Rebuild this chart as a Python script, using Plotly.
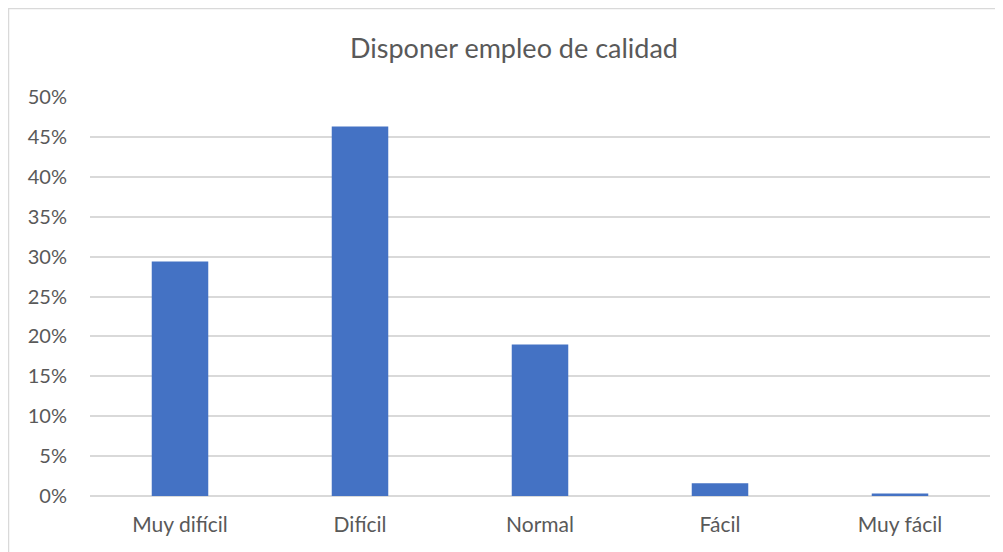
import plotly.graph_objects as go

categorias = ["Muy difícil", "Difícil", "Normal", "Fácil", "Muy fácil"]
valores = [0.294, 0.463, 0.190, 0.016, 0.003]
ticks_y = [0, 0.05, 0.10, 0.15, 0.20, 0.25, 0.30, 0.35, 0.40, 0.45, 0.50]
ticks_txt = ["0%", "5%", "10%", "15%", "20%", "25%", "30%", "35%", "40%", "45%", "50%"]

# la pagina tiene 8px de margen en el body
W, H = 995, 544
ml, mr, mt, mb = 82, 13, 89, 56
pw, ph = W - ml - mr, H - mt - mb

fig = go.Figure(go.Bar(x=categorias, y=valores, marker_color="#4472C4",
                       marker_line_width=0))

fig.update_layout(
    width=W, height=H,
    margin=dict(l=ml, r=mr, t=mt, b=mb),
    paper_bgcolor="white", plot_bgcolor="white",
    font=dict(family="Lato", color="#595959", size=20),
    title=dict(text="Disponer empleo de calidad", x=506 / W, xanchor="center",
               y=1 - 41 / H, yanchor="middle", font=dict(size=27, color="#595959")),
    bargap=0.686,
    showlegend=False,
)
fig.update_yaxes(range=[0, 0.5], tickvals=ticks_y, ticktext=ticks_txt,
                 showgrid=True, gridcolor="#d9d9d9", gridwidth=1.5,
                 zeroline=True, zerolinecolor="#d9d9d9", zerolinewidth=2,
                 showline=False, ticklabelstandoff=22, tickfont=dict(size=20))
fig.update_xaxes(showgrid=False, showline=False, ticklabelstandoff=14,
                 tickfont=dict(size=21))

# marco del grafico
fig.add_shape(type="rect", xref="paper", yref="paper",
              x0=(0.5 - ml) / pw, x1=(W + 10 - ml) / pw,
              y0=-(mb + 10) / ph, y1=(H - 0.5 - mb) / ph,
              line=dict(color="#d9d9d9", width=1.5))

fig.write_html("out.html")
